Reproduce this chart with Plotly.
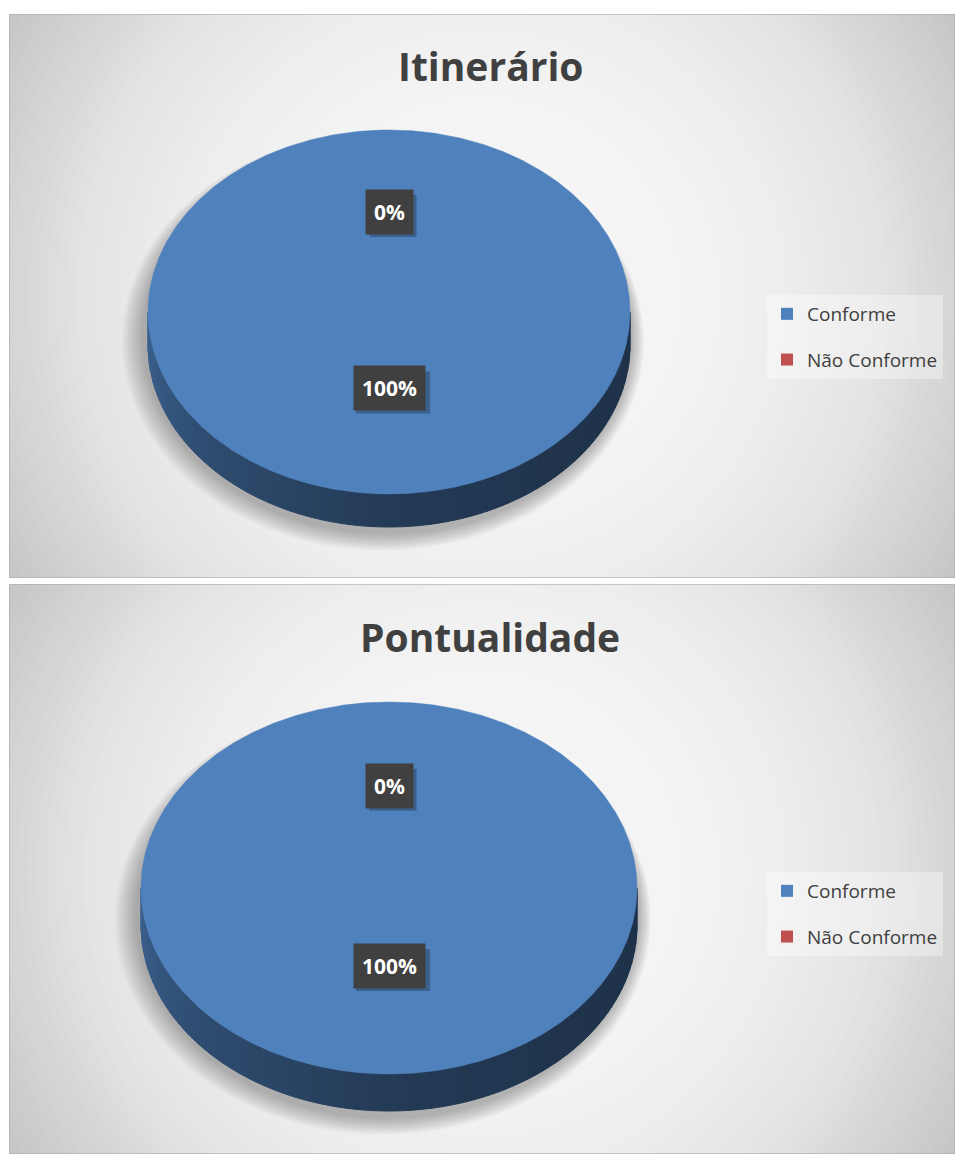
import numpy as np
import plotly.graph_objects as go

# ---------------- data ----------------
categories = ["Conforme", "Não Conforme"]
itinerario_values = [100, 0]
pontualidade_values = [100, 0]
chart_titles = ["Itinerário", "Pontualidade"]
slice_colors = ["#4F81BD", "#C0504D"]

# ---------------- layout geometry (pixels) ----------------
W, H = 955, 1154
panels = [
    dict(values=itinerario_values, title=chart_titles[0], y0=14, y1=578,
         cx=389, cy=312, rx=241, ry=182, depth=33, title_y=65, legend_top=295),
    dict(values=pontualidade_values, title=chart_titles[1], y0=584, y1=1154,
         cx=389, cy=888, rx=248, ry=186, depth=37, title_y=637, legend_top=872),
]
PX0, PX1 = 9, 955
label_frac = [0.42, 0.55]
FONT = "Open Sans"


def hex_rgb(h):
    h = h.lstrip("#")
    return tuple(int(h[i:i + 2], 16) for i in (0, 2, 4))


def pt(cx, cy, rx, ry, th):
    t = np.radians(th)
    return cx + rx * np.sin(t), cy - ry * np.cos(t)


fig = go.Figure()
shapes = []
annotations = []

for k, p in enumerate(panels):
    xa = "x" if k == 0 else "x2"
    ya = "y" if k == 0 else "y2"
    cx, cy, rx, ry, d = p["cx"], p["cy"], p["rx"], p["ry"], p["depth"]

    # --- radial gradient background (opaque concentric circles) ---
    gcx, gcy = (PX0 + PX1) / 2, (p["y0"] + p["y1"]) / 2
    rmax = np.hypot(PX1 - gcx, p["y1"] - gcy) + 6
    dist_pts = [0, 200, 300, 400, 470, 560]
    bright_pts = [246, 244, 238, 228, 214, 197]
    shapes.append(dict(type="rect", xref=xa, yref=ya, x0=PX0, x1=PX1, y0=p["y0"], y1=p["y1"],
                       fillcolor="rgb(197,197,197)", line=dict(width=0), layer="below"))
    for r in np.linspace(rmax, 4, 60):
        b = int(round(np.interp(r, dist_pts, bright_pts)))
        shapes.append(dict(type="circle", xref=xa, yref=ya, x0=gcx - r, x1=gcx + r,
                           y0=gcy - r, y1=gcy + r, fillcolor=f"rgb({b},{b},{b})",
                           line=dict(width=0), layer="below"))
    shapes.append(dict(type="rect", xref=xa, yref=ya, x0=PX0 + 0.5, x1=PX1 - 0.5,
                       y0=p["y0"] + 0.5, y1=p["y1"] - 0.5,
                       line=dict(color="rgba(170,170,170,0.6)", width=1), layer="below"))

    # --- soft shadow beneath pie ---
    scy = cy + d * 0.55 + 6
    for e in np.linspace(20, 0, 12):
        shapes.append(dict(type="circle", xref=xa, yref=ya,
                           x0=cx - rx - 6 - e, x1=cx + rx + 2 + e * 0.6,
                           y0=scy - ry - d * 0.5 - e * 0.3, y1=scy + ry + d * 0.5 + e * 0.8,
                           fillcolor="rgba(0,0,0,0.022)", line=dict(width=0), layer="below"))

    vals = p["values"]
    total = float(sum(vals))
    starts = np.concatenate([[0], np.cumsum(vals)[:-1]]) / total * 360
    ends = np.cumsum(vals) / total * 360

    # --- side walls (front half: 90..270 deg) ---
    for i, (a, b) in enumerate(zip(starts, ends)):
        lo, hi = max(a, 90), min(b, 270)
        if hi <= lo:
            continue
        base = hex_rgb(slice_colors[i])
        n = int(np.ceil((hi - lo) / 2))
        edges = np.linspace(lo, hi, n + 1)
        for t0, t1 in zip(edges[:-1], edges[1:]):
            tt = np.linspace(t0, t1, 4)
            xs, ys = pt(cx, cy, rx, ry, tt)
            xp = np.concatenate([xs, xs[::-1], xs[:1]])
            yp = np.concatenate([ys, ys[::-1] + d, ys[:1]])
            tm = (t0 + t1) / 2
            f = np.interp(tm, [90, 140, 180, 230, 270], [0.39, 0.41, 0.46, 0.60, 0.76])
            c = "rgb({},{},{})".format(*[int(v * f) for v in base])
            fig.add_trace(go.Scatter(x=xp, y=yp, mode="lines", fill="toself",
                                     fillcolor=c, line=dict(color=c, width=1),
                                     hoverinfo="skip", showlegend=False, xaxis=xa, yaxis=ya))

    # --- top face slices ---
    for i, (a, b) in enumerate(zip(starts, ends)):
        if b - a <= 0:
            continue
        tt = np.linspace(a, b, max(int(b - a) * 2, 2))
        xs, ys = pt(cx, cy, rx, ry, tt)
        if b - a < 360:
            xs = np.concatenate([[cx], xs, [cx]])
            ys = np.concatenate([[cy], ys, [cy]])
        fig.add_trace(go.Scatter(x=xs, y=ys, mode="lines", fill="toself",
                                 fillcolor=slice_colors[i], line=dict(color=slice_colors[i], width=0.5),
                                 name=categories[i], hoverinfo="name", showlegend=False,
                                 xaxis=xa, yaxis=ya))

    # --- data labels (with a drop-shadow box drawn as a pixel-sized shape) ---
    for i, (a, b) in enumerate(zip(starts, ends)):
        mid = (a + b) / 2
        lx, ly = pt(cx, cy, rx * label_frac[i], ry * label_frac[i], mid)
        txt = f"{round(vals[i] / total * 100)}%"
        bw = 20 + 13.5 * len(txt)
        bh = 42
        shapes.append(dict(type="rect", xref=xa, yref=ya, xsizemode="pixel", ysizemode="pixel",
                           xanchor=lx, yanchor=ly, x0=-bw / 2 + 4, x1=bw / 2 + 4,
                           y0=-bh / 2 - 4, y1=bh / 2 - 4,
                           fillcolor="rgba(0,0,0,0.25)", line=dict(width=0), layer="above"))
        annotations.append(dict(x=lx, y=ly, xref=xa, yref=ya, showarrow=False, borderpad=8,
                                text=f"<b>{txt}</b>", bgcolor="#404040",
                                font=dict(family=FONT, size=21, color="white")))

    # --- title ---
    annotations.append(dict(x=490, y=p["title_y"], xref=xa, yref=ya, showarrow=False,
                            text=f"<b>{p['title']}</b>",
                            font=dict(family=FONT, size=39, color="#404040")))

    # --- legend entries ---
    lg = "legend" if k == 0 else "legend2"
    for i, cat in enumerate(categories):
        fig.add_trace(go.Scatter(x=[None], y=[None], mode="markers", name=cat,
                                 marker=dict(symbol="square", size=12, color=slice_colors[i]),
                                 legend=lg, legendgroup=f"{lg}_{i}", showlegend=True,
                                 xaxis=xa, yaxis=ya))

legend_common = dict(xanchor="left", yanchor="top", bgcolor="rgba(255,255,255,0.35)",
                     font=dict(family=FONT, size=19, color="#404040"),
                     traceorder="grouped", tracegroupgap=18, itemsizing="trace",
                     xref="paper", yref="paper")

fig.update_layout(
    width=W, height=H, margin=dict(l=0, r=0, t=0, b=0),
    paper_bgcolor="white", plot_bgcolor="rgb(197,197,197)",
    shapes=shapes, annotations=annotations,
    legend=dict(legend_common, x=767 / W, y=1 - panels[0]["legend_top"] / H),
    legend2=dict(legend_common, x=767 / W, y=1 - panels[1]["legend_top"] / H),
    xaxis=dict(domain=[PX0 / W, PX1 / W], range=[PX0, PX1], visible=False, fixedrange=True),
    yaxis=dict(domain=[1 - panels[0]["y1"] / H, 1 - panels[0]["y0"] / H],
               range=[panels[0]["y1"], panels[0]["y0"]], visible=False, fixedrange=True),
    xaxis2=dict(domain=[PX0 / W, PX1 / W], range=[PX0, PX1], visible=False, fixedrange=True,
                anchor="y2"),
    yaxis2=dict(domain=[1 - panels[1]["y1"] / H, 1 - panels[1]["y0"] / H],
                range=[panels[1]["y1"], panels[1]["y0"]], visible=False, fixedrange=True,
                anchor="x2"),
    showlegend=True,
)

# remove the default 8px page margin so the figure fills the window exactly
fig.write_html("out.html", config={"displayModeBar": False},
               post_script="document.body.style.margin='0';document.body.style.overflow='hidden';")
